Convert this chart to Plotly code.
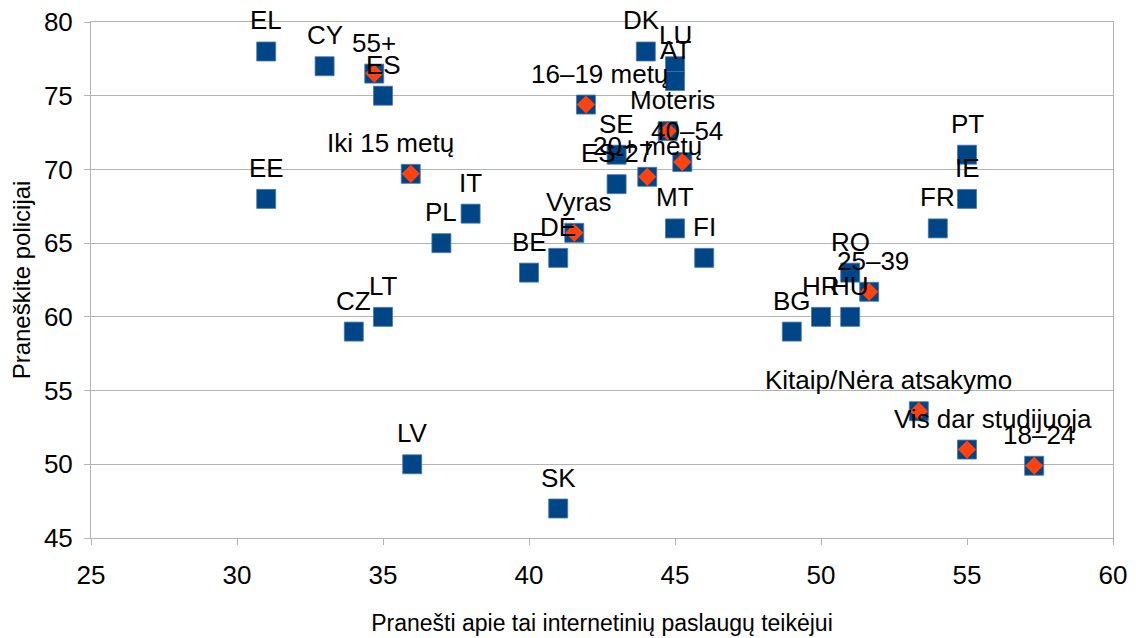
import plotly.graph_objects as go

# Countries (blue squares)
country_labels = ["EL", "CY", "ES", "EE", "IT", "PL", "CZ", "LT", "LV", "SK",
                  "BE", "DE", "DK", "LU", "AT", "SE", "ES-27", "MT", "FI",
                  "BG", "HR", "HU", "RO", "FR", "PT", "IE"]
country_x = [31, 33, 35, 31, 38, 37, 34, 35, 36, 41,
             40, 41, 44, 45, 45, 43, 43, 45, 46,
             49, 50, 51, 51, 54, 55, 55]
country_y = [78, 77, 75, 68, 67, 65, 59, 60, 50, 47,
             63, 64, 78, 77, 76, 71, 69, 66, 64,
             59, 60, 60, 63, 66, 71, 68]

# Socio-demographic groups (orange diamonds)
group_labels = ["55+", "Iki 15 metų", "16–19 metų", "Vyras", "Moteris", "20+ metų",
                "40–54", "25–39", "Kitaip/Nėra atsakymo", "Vis dar studijuoja", "18–24"]
group_x = [34.7, 35.95, 41.95, 41.55, 44.75, 44.05, 45.25, 51.65, 53.35, 55.0, 57.3]
group_y = [76.5, 69.7, 74.4, 65.7, 72.6, 69.5, 70.5, 61.7, 53.6, 51.0, 49.9]

x_ticks = [25, 30, 35, 40, 45, 50, 55, 60]
y_ticks = [45, 50, 55, 60, 65, 70, 75, 80]
x_title = "Pranešti apie tai internetinių paslaugų teikėjui"
y_title = "Praneškite policijai"

BLUE = "#004586"
ORANGE = "#ff420e"
GRID = "#b3b3b3"
FONT = "Liberation Sans, Arial, sans-serif"

label_xshift = {"Iki 15 metų": -20, "16–19 metų": 14, "Kitaip/Nėra atsakymo": -30,
                "Vis dar studijuoja": 26, "18–24": 5, "Moteris": 5, "40–54": 5,
                "Vyras": 5, "25–39": 4, "DK": -4}

fig = go.Figure()
fig.add_trace(go.Scatter(
    x=country_x + group_x, y=country_y + group_y, mode="markers",
    marker=dict(symbol="square", size=19, color=BLUE,
                line=dict(width=0.8, color="#4a78ab")),
    hoverinfo="skip", showlegend=False, cliponaxis=False))
fig.add_trace(go.Scatter(
    x=group_x, y=group_y, mode="markers",
    marker=dict(symbol="diamond", size=14, color=ORANGE, line=dict(width=0)),
    hoverinfo="skip", showlegend=False, cliponaxis=False))

for lab, xv, yv in list(zip(country_labels, country_x, country_y)) + list(zip(group_labels, group_x, group_y)):
    fig.add_annotation(x=xv, y=yv, text=lab, showarrow=False,
                       xanchor="center", yanchor="middle",
                       yshift=31, xshift=label_xshift.get(lab, 0),
                       font=dict(family=FONT, size=26, color="#000000"))

fig.update_layout(
    width=1136, height=638,
    margin=dict(l=91, r=23, t=22, b=100),
    paper_bgcolor="white", plot_bgcolor="white",
    font=dict(family=FONT, size=24, color="#000000"),
)
fig.update_xaxes(range=[25, 60], tickvals=x_ticks, showgrid=False, automargin=False,
                 showline=True, linecolor=GRID, linewidth=1, mirror=True,
                 ticks="outside", ticklen=6, tickcolor=GRID,
                 tickfont=dict(family=FONT, size=26), ticklabelstandoff=8,
                 title=dict(text=x_title, font=dict(family=FONT, size=23), standoff=25),
                 zeroline=False)
fig.update_yaxes(range=[45, 80], tickvals=y_ticks, showgrid=True, gridcolor=GRID, gridwidth=1,
                 showline=True, linecolor=GRID, linewidth=1, mirror=True, automargin=False,
                 ticks="outside", ticklen=6, tickcolor=GRID,
                 tickfont=dict(family=FONT, size=26), ticklabelstandoff=6,
                 title=dict(text=y_title, font=dict(family=FONT, size=24), standoff=6),
                 zeroline=False)

fig.write_html("out.html", config={"displayModeBar": False},
               post_script="document.body.style.margin='0';document.body.style.overflow='hidden';")
